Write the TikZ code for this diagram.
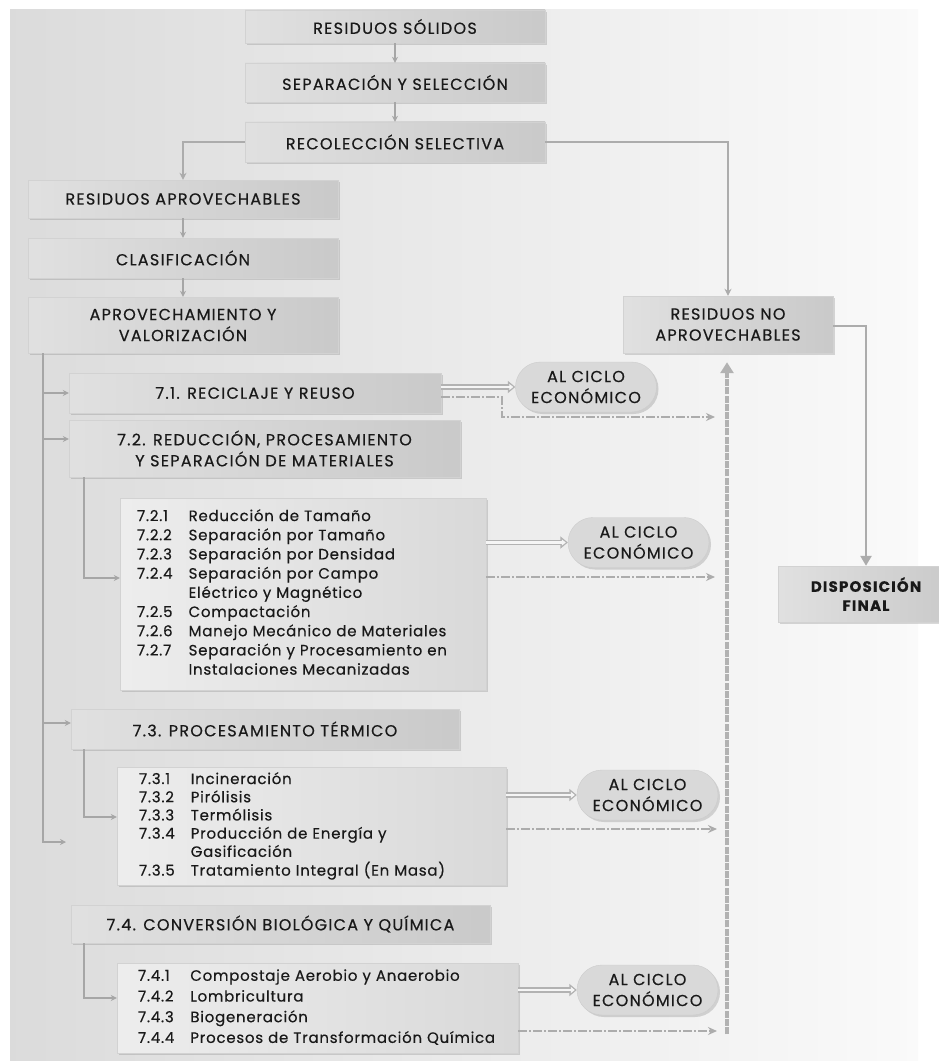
\documentclass[tikz,border=0pt]{standalone}
\usepackage{fontspec}
\setmainfont{Poppins}
\newfontfamily\flujofont{Poppins}[LetterSpace=8,FakeBold=0.5]
\newfontfamily\listafont{Poppins}[LetterSpace=5,FakeBold=0.4]
\usetikzlibrary{arrows.meta,shadows,shapes.misc}
\newcommand\rotfont{\flujofont\fontsize{16}{21}\selectfont}
\newcommand\itemfont{\listafont\fontsize{15}{19.2}\selectfont}
\newcommand\finalfont{\flujofont\bfseries\fontsize{15}{19}\selectfont}

\begin{document}
\begin{tikzpicture}[x=1pt,y=-1pt,
    etapa/.style={rectangle,left color=gray!24,right color=gray!42,draw=gray!35,line width=0.4pt,
      drop shadow={shadow xshift=2pt,shadow yshift=-2pt,opacity=0.3},
      font=\rotfont,text=black!90,align=center,inner sep=0pt},
    lista/.style={etapa,left color=gray!14,right color=gray!30,font=\itemfont,align=left,inner xsep=17pt},
    ciclo/.style={rounded rectangle,fill=gray!30,draw=gray!40,line width=0.4pt,
      drop shadow={shadow xshift=2pt,shadow yshift=-2pt,opacity=0.3},
      font=\rotfont,text=black!90,align=center,inner sep=0pt,minimum width=141pt,minimum height=50pt},
    flujo/.style={draw=gray!70,line width=1.5pt,-{Stealth[length=6pt,width=6pt]}},
    rama/.style={draw=gray!65,line width=1.8pt,-{Stealth[length=7pt,width=7pt]}},
    grueso/.style={draw=gray!65,line width=2.4pt,-{Triangle[length=10pt,width=11pt]}},
    salida/.style={draw=gray!8,line width=2.6pt,shorten >=2pt,-{Triangle[length=4pt,width=6pt]},
      preaction={draw=gray!60,line width=5.6pt,shorten >=0pt,-{Triangle[length=7.5pt,width=12pt]}}},
    retorno/.style={draw=gray!65,line width=1.6pt,dash pattern=on 9pt off 2pt on 2pt off 2pt,-{Stealth[length=9pt,width=8pt]}},
    colector/.style={draw=gray!60,line width=3.2pt,dash pattern=on 7pt off 1.2pt,-{Triangle[length=11pt,width=13pt]},shorten >=9pt}]
    \useasboundingbox (0,0) rectangle (938,1062);
    \shade[left color=gray!28,right color=gray!4] (10,10) rectangle (918,1060);

    \node[etapa,minimum width=300pt,minimum height=33pt] (solidos) at (395,26.5) {RESIDUOS SÓLIDOS};
    \node[etapa,minimum width=300pt,minimum height=39pt] (separacion) at (395,82.5) {SEPARACIÓN Y SELECCIÓN};
    \node[etapa,minimum width=300pt,minimum height=40pt] (recoleccion) at (395,142) {RECOLECCIÓN SELECTIVA};

    \node[etapa,minimum width=310pt,minimum height=38pt] (aprovechables) at (183,199) {RESIDUOS APROVECHABLES};
    \node[etapa,minimum width=310pt,minimum height=40pt] (clasificacion) at (183,258) {CLASIFICACIÓN};
    \node[etapa,minimum width=310pt,minimum height=56pt] (valorizacion) at (183,325) {APROVECHAMIENTO Y\\VALORIZACIÓN};

    \node[etapa,minimum width=210pt,minimum height=57pt] (noaprov) at (728,324.5) {RESIDUOS NO\\APROVECHABLES};
    \node[etapa,minimum width=176pt,minimum height=56pt,font=\finalfont] (disposicion) at (866,594) {DISPOSICIÓN\\FINAL};

    \node[etapa,minimum width=372pt,minimum height=40pt] (reciclaje) at (255,393) {7.1. RECICLAJE Y REUSO};
    \node[etapa,minimum width=391pt,minimum height=57pt] (reduccion) at (264.5,448.5) {7.2. REDUCCIÓN, PROCESAMIENTO\\Y SEPARACIÓN DE MATERIALES};
    \node[lista,text width=332pt,minimum height=192pt] (lista72) at (303,594) {%
      \begin{tabular}{@{}l@{\hspace{16pt}}l@{}}
        7.2.1 & Reducción de Tamaño\\
        7.2.2 & Separación por Tamaño\\
        7.2.3 & Separación por Densidad\\
        7.2.4 & Separación por Campo\\
              & Eléctrico y Magnético\\
        7.2.5 & Compactación\\
        7.2.6 & Manejo Mecánico de Materiales\\
        7.2.7 & Separación y Procesamiento en\\
              & Instalaciones Mecanizadas
      \end{tabular}};

    \node[etapa,minimum width=388pt,minimum height=40pt] (termico) at (265,729) {7.3. PROCESAMIENTO TÉRMICO};
    \node[lista,text width=345pt,minimum height=118pt,inner xsep=22pt] (lista73) at (311.5,826) {%
      \begin{tabular}{@{}l@{\hspace{16pt}}l@{}}
        7.3.1 & Incineración\\[-1pt]
        7.3.2 & Pirólisis\\[-1pt]
        7.3.3 & Termólisis\\[-1pt]
        7.3.4 & Producción de Energía y\\[-1pt]
              & Gasificación\\[-1pt]
        7.3.5 & Tratamiento Integral (En Masa)
      \end{tabular}};

    \node[etapa,minimum width=419pt,minimum height=38pt] (conversion) at (280.5,924) {7.4. CONVERSIÓN BIOLÓGICA Y QUÍMICA};
    \node[lista,text width=359pt,minimum height=90pt,inner xsep=21pt] (lista74) at (317.5,1008) {%
      \begin{tabular}{@{}l@{\hspace{16pt}}l@{}}
        7.4.1 & Compostaje Aerobio y Anaerobio\\[1.5pt]
        7.4.2 & Lombricultura\\[1.5pt]
        7.4.3 & Biogeneración\\[1.5pt]
        7.4.4 & Procesos de Transformación Química
      \end{tabular}};

    \foreach \n/\x/\y in {1/586/387,2/638.5/542.5,3/647.5/795,4/647.5/990}
        \node[ciclo] (ciclo\n) at (\x,\y) {AL CICLO\\ECONÓMICO};

    % flujo principal
    \draw[flujo] (solidos) -- (separacion);
    \draw[flujo] (separacion) -- (recoleccion);
    \draw[rama] (recoleccion.west) -| (aprovechables.north);
    \draw[rama] (recoleccion.east) -| (noaprov.north);
    \draw[flujo] (aprovechables) -- (clasificacion);
    \draw[flujo] (clasificacion) -- (valorizacion);
    \draw[grueso] ([yshift=-1.5pt]noaprov.east) -| (disposicion.north);

    % tronco de aprovechamiento
    \coordinate (fin) at (66,842);
    \draw[flujo] ([xshift=15pt]valorizacion.south west) |- (reciclaje.west);
    \draw[flujo] ([xshift=15pt]valorizacion.south west) |- ([yshift=9.5pt]reduccion.west);
    \draw[flujo] ([xshift=15pt]valorizacion.south west) |- ([yshift=6pt]termico.west);
    \draw[flujo] ([xshift=15pt]valorizacion.south west) |- (fin);
    \draw[flujo] ([xshift=15pt]reduccion.south west) |- ([yshift=16pt]lista72.west);
    \draw[flujo] ([xshift=13pt]termico.south west) |- ([yshift=9pt]lista73.west);
    \draw[flujo] ([xshift=13pt]conversion.south west) |- ([yshift=10pt]lista74.west);

    % al ciclo economico
    \draw[salida] (reciclaje.east |- ciclo1.west) -- (ciclo1.west);
    \draw[salida] (lista72.east |- ciclo2.west) -- (ciclo2.west);
    \draw[salida] (lista73.east |- ciclo3.west) -- (ciclo3.west);
    \draw[salida] (lista74.east |- ciclo4.west) -- (ciclo4.west);

    % retorno a no aprovechables
    \coordinate (r1) at (715,417);
    \coordinate (r2) at (715,577);
    \coordinate (r3) at (717,829);
    \coordinate (r4) at (717,1031);
    \coordinate (c0) at (727,1034);
    \draw[retorno] ([yshift=-4pt]reciclaje.east) -- ++(61,0) |- (r1);
    \draw[retorno] (lista72.east |- r2) -- (r2);
    \draw[retorno] (lista73.east |- r3) -- (r3);
    \draw[retorno] (lista74.east |- r4) -- (r4);
    \draw[colector] (c0) -- (c0 |- noaprov.south);
\end{tikzpicture}
\end{document}
